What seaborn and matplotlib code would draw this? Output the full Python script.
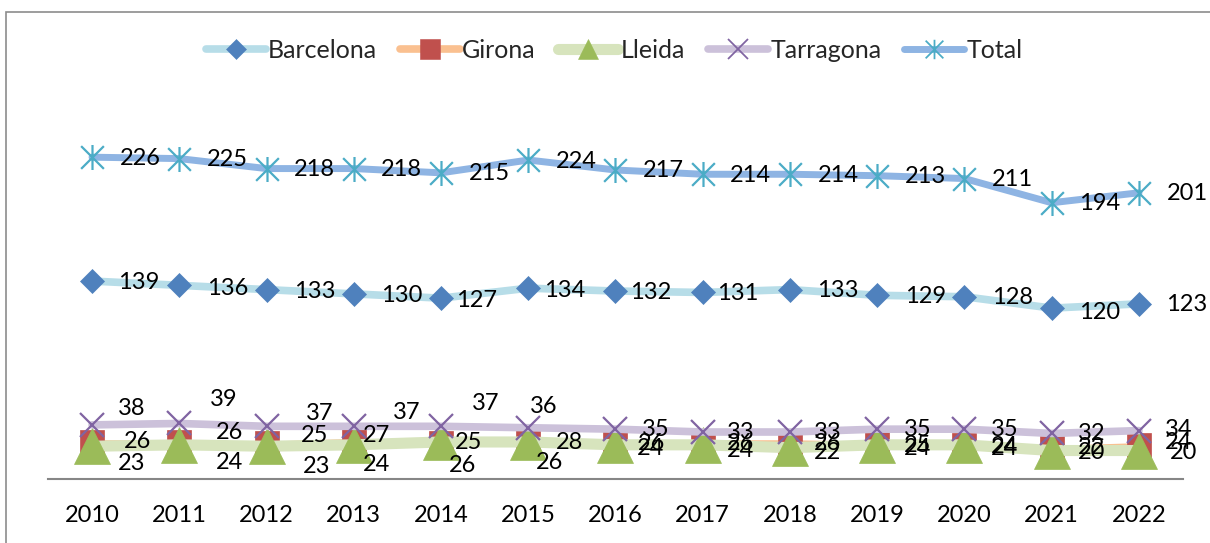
import matplotlib
matplotlib.use("Agg")
import matplotlib.pyplot as plt
import seaborn as sns
import pandas as pd
import numpy as np
from matplotlib.path import Path
from matplotlib.lines import Line2D
from matplotlib.patches import Rectangle

# ---------------- data ----------------
years = ["2010", "2011", "2012", "2013", "2014", "2015", "2016",
         "2017", "2018", "2019", "2020", "2021", "2022"]
barcelona = [139, 136, 133, 130, 127, 134, 132, 131, 133, 129, 128, 120, 123]
girona = [26, 26, 25, 27, 25, 28, 26, 26, 26, 25, 24, 22, 24]
lleida = [23, 24, 23, 24, 26, 26, 24, 24, 22, 24, 24, 20, 20]
tarragona = [38, 39, 37, 37, 37, 36, 35, 33, 33, 35, 35, 32, 34]
total = [226, 225, 218, 218, 215, 224, 217, 214, 214, 213, 211, 194, 201]
series_names = ["Barcelona", "Girona", "Lleida", "Tarragona", "Total"]

frames = []
for name, vals in zip(series_names, [barcelona, girona, lleida, tarragona, total]):
    frames.append(pd.DataFrame({"idx": np.arange(len(years)), "year": years,
                                "value": vals, "series": name}))
df = pd.concat(frames, ignore_index=True)

# ---------------- style ----------------
sns.set_theme(style="white")
plt.rcParams["font.family"] = ["Lato", "DejaVu Sans"]

asterisk = Path([(-1, -1), (1, 1), (-1, 1), (1, -1), (0, -1.1), (0, 1.1)],
                [Path.MOVETO, Path.LINETO, Path.MOVETO, Path.LINETO,
                 Path.MOVETO, Path.LINETO])

styles = {
    "Barcelona": dict(color="#B7DDE8", lw=5.5, marker="D", ms=12.5,
                      mfc="#4F81BD", mec="#4F81BD", mew=0.5, lms=10),
    "Girona": dict(color="#FAC090", lw=2.5, marker="s", ms=17,
                   mfc="#C0504D", mec="#C0504D", mew=0.5, lms=14),
    "Lleida": dict(color="#D7E4BD", lw=8, marker="^", ms=26,
                   mfc="#9BBB59", mec="#9BBB59", mew=0.5, lms=14),
    "Tarragona": dict(color="#CCC1DA", lw=5.5, marker="x", ms=17.5,
                      mfc="#8064A2", mec="#8064A2", mew=1.6, lms=14),
    "Total": dict(color="#8EB4E3", lw=5, marker=asterisk, ms=18,
                  mfc="#4BACC6", mec="#4BACC6", mew=1.6, lms=14),
}

# label offsets in pixels (dx right, dy up) for each point
lab_off = {
    "Total": [(48, -1)] * 13,
    "Barcelona": [(47, -1), (48, -3), (48, -2), (48, -2), (36, -2), (36, -2), (35, -1),
                  (35, -1), (48, -1), (48, -1), (48, -1), (48, -4), (48, -1)],
    "Tarragona": [(40, 16), (44, 24), (53, 13), (53, 14), (45, 23), (15, 21),
                  (40, 0), (38, 0), (38, 0), (40, 0), (40, 0), (40, 0), (40, 1)],
    "Girona": [(46, 0), (50, 9), (48, 8), (23, 5), (28, 1), (41, -3),
               (36, -2), (38, -2), (38, -2), (40, -2), (40, -2), (40, 0), (40, 2)],
    "Lleida": [(40, -17), (50, -18), (50, -20), (23, -20), (22, -24), (21, -21),
               (35, -4), (38, -6), (38, -5), (40, -4), (40, -4), (40, -2), (45, -2)],
}

W, H = 1210, 543
fig = plt.figure(figsize=(W / 100, H / 100), dpi=100)
fig.patch.set_facecolor("white")
ax = fig.add_axes([48.4 / W, (H - 479) / H, (1182.6 - 48.4) / W, (479 - 123) / H])

for z, name in enumerate(series_names):
    st = styles[name]
    sub = df[df["series"] == name]
    sns.lineplot(data=sub, x="idx", y="value", ax=ax, color=st["color"], lw=st["lw"],
                 marker=st["marker"], markersize=st["ms"],
                 markerfacecolor=st["mfc"], markeredgecolor=st["mec"],
                 markeredgewidth=st["mew"], zorder=2 + z, legend=False,
                 errorbar=None, sort=False)

for name in series_names:
    sub = df[df["series"] == name].reset_index(drop=True)
    for i, row in sub.iterrows():
        dx, dy = lab_off[name][i]
        ax.annotate(str(row["value"]), (row["idx"], row["value"]),
                    xytext=(dx, dy), textcoords="offset pixels",
                    ha="center", va="center", fontsize=17, color="black",
                    zorder=20)

ax.set_xlim(-0.5, len(years) - 0.5)
ax.set_ylim(0, 250)
ax.set_xticks(np.arange(len(years)))
ax.set_xticklabels(years, fontsize=17, color="black")
ax.set_yticks([])
ax.set_xlabel("")
ax.set_ylabel("")
ax.tick_params(axis="x", length=0, pad=19)
for s in ["top", "right", "left"]:
    ax.spines[s].set_visible(False)
ax.spines["bottom"].set_color("#868686")
ax.spines["bottom"].set_linewidth(1.5)
ax.spines["bottom"].set_zorder(1)
ax.set_facecolor("none")

handles = []
for name in series_names:
    st = styles[name]
    handles.append(Line2D([0], [0], color=st["color"], lw=st["lw"] if name != "Girona" else 5.5,
                          marker=st["marker"], markersize=st["lms"],
                          markerfacecolor=st["mfc"], markeredgecolor=st["mec"],
                          markeredgewidth=st["mew"] * 0.8, solid_capstyle="round"))
fig.legend(handles, series_names, loc="center", bbox_to_anchor=(614 / W, 1 - 50 / H),
           ncol=5, frameon=False, fontsize=18, handlelength=2.4, handletextpad=0.1,
           columnspacing=0.9)

fig.patches.append(Rectangle((6 / W, -0.2), 2.0, (H - 12) / H + 0.2,
                             transform=fig.transFigure, fill=False,
                             edgecolor="#8C8C8C", lw=1.2, zorder=0))

fig.savefig("out.png", dpi=100, facecolor="white")
